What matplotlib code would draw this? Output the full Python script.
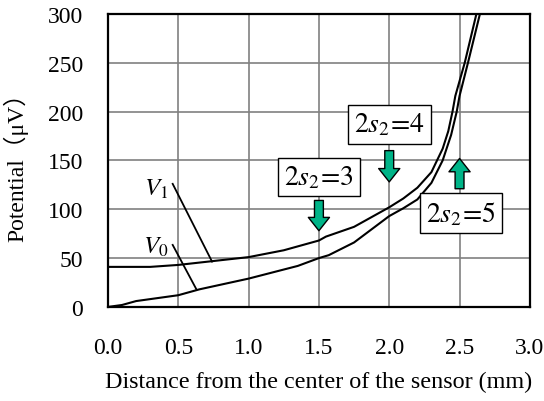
import matplotlib
matplotlib.use('Agg')
import matplotlib.pyplot as plt

# data
v1_x = [0.0, 0.3, 0.5, 0.75, 1.0, 1.25, 1.5, 1.55, 1.75, 2.0, 2.1, 2.2, 2.3, 2.38, 2.42, 2.45, 2.47, 2.537, 2.62]
v1_y = [41, 41, 43, 47, 51, 58, 68, 72, 82, 102, 111, 122, 138, 162, 180, 200, 216, 250, 300]
v0_x = [0.0, 0.1, 0.2, 0.5, 0.65, 1.0, 1.35, 1.5, 1.57, 1.75, 2.0, 2.1, 2.2, 2.3, 2.38, 2.44, 2.48, 2.5, 2.56, 2.645]
v0_y = [0, 2, 6, 12, 18, 29, 42, 50, 53, 66, 93, 101, 110, 127, 150, 176, 200, 216, 250, 300]

x_ticks = [0.0, 0.5, 1.0, 1.5, 2.0, 2.5, 3.0]
y_ticks = [0, 50, 100, 150, 200, 250, 300]

# arrows: (x, tail, tip) and box labels
arrow_x = [1.5, 2.0, 2.5]
arrow_tail = [109, 160, 121]
arrow_tip = [78, 128, 152]
box_labels = ['$2\\mathit{s}_{\\mathit{2}}\\!=\\!3$',
              '$2\\mathit{s}_{\\mathit{2}}\\!=\\!4$',
              '$2\\mathit{s}_{\\mathit{2}}\\!=\\!5$']
box_x = [1.5, 2.0, 2.51]
box_y = [133, 187, 96]

plt.rcParams['font.family'] = 'Liberation Serif'
plt.rcParams['mathtext.fontset'] = 'stix'

fig = plt.figure(figsize=(5.44, 4.02), dpi=100)
ax = fig.add_axes([0.1985, 0.234, 0.7755, 0.729])

ax.plot(v1_x, v1_y, color='black', lw=1.5, zorder=3)
ax.plot(v0_x, v0_y, color='black', lw=1.5, zorder=3)

ax.set_xlim(0, 3.0)
ax.set_ylim(0, 300)
ax.set_xticks(x_ticks)
ax.set_yticks(y_ticks)
ax.set_xticklabels(['%.1f' % t for t in x_ticks])
ax.set_yticklabels([str(t) for t in y_ticks])
ax.grid(True, color='#808080', lw=1.2)
ax.set_axisbelow(True)
ax.tick_params(length=0, labelsize=17)
ax.tick_params(axis='x', pad=22)
ax.tick_params(axis='y', pad=18)
for s in ax.spines.values():
    s.set_linewidth(1.6)

ax.set_xlabel('Distance from the center of the sensor (mm)', fontsize=17.4, labelpad=9)
ax.set_ylabel('Potential（μV）', fontsize=17, labelpad=14,
              family=['Liberation Serif', 'Noto Sans CJK JP'])

# curve labels with leader lines
ax.text(0.34, 121, '$V_{\\mathit{1}}$', fontsize=18, ha='center', va='center')
ax.plot([0.46, 0.74], [126, 46.4], color='black', lw=1.3)
ax.text(0.34, 62, '$V_{\\mathit{0}}$', fontsize=18, ha='center', va='center')
ax.plot([0.46, 0.63], [63.5, 17.7], color='black', lw=1.3)

for x, a, b in zip(arrow_x, arrow_tail, arrow_tip):
    ax.annotate('', xy=(x, b), xytext=(x, a),
                arrowprops=dict(arrowstyle='simple,head_length=0.6,head_width=0.95,tail_width=0.4',
                                fc='#00B488', ec='black', lw=1, mutation_scale=16,
                                shrinkA=0, shrinkB=0), zorder=4)

for lab, x, y in zip(box_labels, box_x, box_y):
    ax.text(x, y, lab, fontsize=20, ha='center', va='center', zorder=5,
            bbox=dict(boxstyle='square,pad=0.22', fc='white', ec='black', lw=1))

fig.savefig('out.png', dpi=100)
